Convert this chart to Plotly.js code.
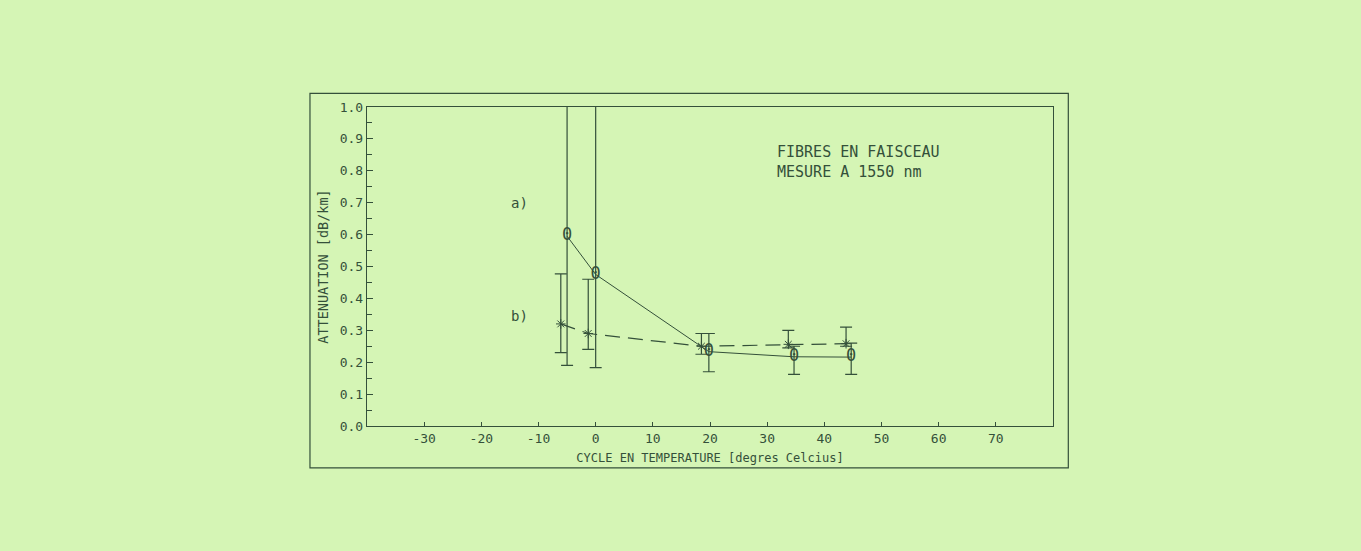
<!DOCTYPE html>
<html>
<head>
<meta charset="utf-8">
<script src="https://cdn.plot.ly/plotly-3.0.1.min.js"></script>
<style>html,body{margin:0;padding:0;background:#d5f5b5;}</style>
</head>
<body>
<div id="chart" style="width:1361px;height:551px;"></div>
<script>
// Series a) (solid line, "0" markers)
const aX = [-5, 0, 19.8, 34.7, 44.7];
const aY = [0.595, 0.475, 0.233, 0.217, 0.216];
const aErrLow = [0.19, 0.183, 0.17, 0.162, 0.162];
const aErrHigh = [2.0, 2.0, 0.29, 0.25, 0.26];
// Series b) (dashed line, star markers)
const bX = [-6.1, -1.3, 18.5, 33.7, 43.8];
const bY = [0.32, 0.29, 0.25, 0.256, 0.258];
const bErrLow = [0.23, 0.24, 0.225, 0.245, 0.25];
const bErrHigh = [0.477, 0.46, 0.29, 0.30, 0.31];
// Axis ticks
const xTickVals = [-30, -20, -10, 0, 10, 20, 30, 40, 50, 60, 70];
const xTickText = ['-30', '-20', '-10', '0', '10', '20', '30', '40', '50', '60', '70'];
const yTickVals = [0, 0.1, 0.2, 0.3, 0.4, 0.5, 0.6, 0.7, 0.8, 0.9, 1.0];
const yTickText = ['0.0', '0.1', '0.2', '0.3', '0.4', '0.5', '0.6', '0.7', '0.8', '0.9', '1.0'];

const ink = '#34503a';
const font = 'DejaVu Sans Mono, monospace';

const up = (hi, y) => hi.map((h, i) => h - y[i]);
const dn = (lo, y) => lo.map((l, i) => y[i] - l);

const traceA = {
  x: aX, y: aY, mode: 'lines+text', text: aX.map(() => '0'),
  textposition: 'middle center', cliponaxis: false,
  textfont: {family: font, size: 17, color: ink},
  line: {color: ink, width: 1},
  error_y: {type: 'data', symmetric: false, array: up(aErrHigh, aY), arrayminus: dn(aErrLow, aY),
            color: ink, thickness: 1.2, width: 6},
  showlegend: false, hoverinfo: 'skip'
};
const traceB = {
  x: bX, y: bY, mode: 'lines+markers',
  line: {color: ink, width: 1.2, dash: '15px,8px'},
  marker: {symbol: 'asterisk-open', size: 8, color: ink, line: {color: ink, width: 1}},
  error_y: {type: 'data', symmetric: false, array: up(bErrHigh, bY), arrayminus: dn(bErrLow, bY),
            color: ink, thickness: 1.2, width: 6},
  showlegend: false, hoverinfo: 'skip'
};

const W = 1052.7 - 367, H = 426 - 106.7;
const layout = {
  width: 1361, height: 551,
  paper_bgcolor: '#d5f5b5', plot_bgcolor: '#d5f5b5',
  margin: {l: 367, r: 1361 - 1052.7, t: 106.7, b: 551 - 426, pad: 0},
  font: {family: font, color: ink, size: 13},
  xaxis: {
    range: [-40, 80], showgrid: false, zeroline: false,
    showline: true, mirror: true, linecolor: ink, linewidth: 1.2,
    ticks: 'inside', ticklen: 4, tickcolor: ink, tickwidth: 1,
    tickvals: xTickVals, ticktext: xTickText,
    tickfont: {family: font, size: 13, color: ink},
    title: {text: 'CYCLE EN TEMPERATURE [degres Celcius]', font: {family: font, size: 12, color: ink}, standoff: 8}
  },
  yaxis: {
    range: [0, 1], showgrid: false, zeroline: false,
    showline: true, mirror: true, linecolor: ink, linewidth: 1.2,
    ticks: 'inside', ticklen: 6, tickcolor: ink, tickwidth: 1,
    tickvals: yTickVals, ticktext: yTickText,
    minor: {dtick: 0.05, ticks: 'inside', ticklen: 5, tickcolor: ink, tickwidth: 1, showgrid: false},
    tickfont: {family: font, size: 13, color: ink},
    title: {text: 'ATTENUATION [dB/km]', font: {family: font, size: 13.5, color: ink}, standoff: 8}
  },
  shapes: [{
    type: 'rect', xref: 'paper', yref: 'paper',
    x0: (310 - 367) / W, x1: (1068 - 367) / W,
    y0: (426 - 468) / H, y1: (426 - 93) / H,
    line: {color: ink, width: 1.2}, fillcolor: 'rgba(0,0,0,0)', layer: 'below'
  }],
  annotations: [
    {x: -13.4, y: 0.70, xref: 'x', yref: 'y', text: 'a)', showarrow: false, font: {family: font, size: 14, color: ink}},
    {x: -13.4, y: 0.345, xref: 'x', yref: 'y', text: 'b)', showarrow: false, font: {family: font, size: 14, color: ink}},
    {x: 31.3, y: 0.828, xref: 'x', yref: 'y', xanchor: 'left', yanchor: 'middle', align: 'left',
     text: 'FIBRES EN FAISCEAU<br>MESURE A 1550 nm', showarrow: false,
     font: {family: font, size: 15, color: ink}}
  ]
};
Plotly.newPlot('chart', [traceA, traceB], layout, {staticPlot: true});
</script>
</body>
</html>
